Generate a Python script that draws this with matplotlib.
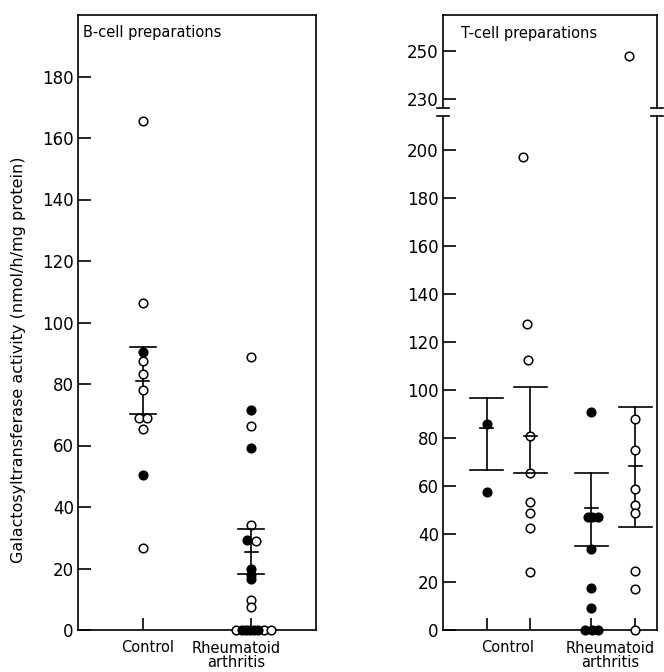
import numpy as np
import matplotlib
matplotlib.use("Agg")
from matplotlib import pyplot as plt

# ---- data ----
# B-cell panel
b_ctrl_open = [165.4, 106.2, 87.4, 83.2, 78.0, 68.9, 68.9, 65.3, 26.6]
b_ctrl_open_dx = [0, 0, 0, 0, 0, -0.04, 0.04, 0, 0]
b_ctrl_fill = [90.3, 50.4]
b_ctrl_fill_dx = [0, 0]
b_ra_open = [88.7, 66.3, 34.1, 28.9, 9.7, 7.5, 0, 0, 0]
b_ra_open_dx = [0, 0, 0, 0.05, 0, 0, -0.14, 0.12, 0.185]
b_ra_fill = [71.5, 59.1, 29.2, 19.8, 17.9, 16.6, 0, 0, 0, 0, 0]
b_ra_fill_dx = [0, 0, -0.04, 0, 0, 0, -0.085, -0.045, -0.01, 0.03, 0.065]
# error bars: low, mean, high
b_err_lo = [70.2, 18.3]
b_err_mean = [81.0, 25.3]
b_err_hi = [92.0, 32.8]

# T-cell panel (4 columns: control filled, control open, RA filled, RA open)
t_ctrl_fill = [85.8, 57.5]
t_ctrl_fill_dx = [0, 0]
t_ctrl_open = [197, 127.5, 112.5, 80.8, 65.4, 53.3, 48.6, 42.6, 24.3]
t_ctrl_open_dx = [-0.16, -0.07, -0.05, 0, 0, 0, 0, 0, 0]
t_ra_fill = [90.8, 47.1, 47.1, 47.1, 33.8, 17.5, 9.2, 0, 0, 0]
t_ra_fill_dx = [0, -0.09, 0.02, 0.14, 0, 0, 0, -0.14, 0.02, 0.14]
t_ra_open = [248, 87.9, 75.0, 58.8, 52.1, 48.8, 24.6, 17.1, 0]
t_ra_open_dx = [-0.14, 0, 0, 0, 0, 0, 0, 0, 0]
t_err_lo = [66.7, 65.4, 35.0, 43.0]
t_err_mean = [84.2, 81.0, 50.8, 68.3]
t_err_hi = [96.7, 101.2, 65.4, 93.0]

b_x = [1, 2]
t_x = [1, 2, 3.4, 4.4]

plt.rcParams['font.family'] = 'DejaVu Sans'
fig = plt.figure(figsize=(6.64, 6.72), dpi=100)

ms = 6.2
lw = 1.2


def dots(ax, x, vals, dx, filled):
    xs = x + np.array(dx)
    ax.plot(xs, vals, 'o', ms=ms, mec='black', mew=1.1,
            mfc='black' if filled else 'white', clip_on=False, zorder=3)


def errbar(ax, x, lo, mean, hi, cap=0.12, mid=0.06):
    ax.plot([x, x], [lo, hi], color='black', lw=lw, zorder=2)
    ax.plot([x - cap, x + cap], [hi, hi], color='black', lw=lw, zorder=4)
    ax.plot([x - cap, x + cap], [lo, lo], color='black', lw=lw, zorder=4)
    ax.plot([x - mid, x + mid], [mean, mean], color='black', lw=lw, zorder=4)


def style(ax):
    for s in ax.spines.values():
        s.set_linewidth(lw)
    ax.tick_params(direction='in', length=9, width=lw, labelsize=12, pad=3)


# ---- left panel: B cells ----
axb = fig.add_axes([78 / 664, 1 - 630 / 672, 238 / 664, 615 / 672])
axb.set_xlim(0.4, 2.6)
axb.set_ylim(0, 200)
axb.set_yticks(range(0, 181, 20))
axb.set_xticks(b_x)
axb.set_xticklabels([])
style(axb)

dots(axb, b_x[0], b_ctrl_open, b_ctrl_open_dx, False)
dots(axb, b_x[0], b_ctrl_fill, b_ctrl_fill_dx, True)
dots(axb, b_x[1], b_ra_open, b_ra_open_dx, False)
dots(axb, b_x[1], b_ra_fill, b_ra_fill_dx, True)
for i in range(2):
    errbar(axb, b_x[i], b_err_lo[i], b_err_mean[i], b_err_hi[i], cap=0.12, mid=0.06)

axb.text(0.02, 0.972, 'B-cell preparations', transform=axb.transAxes,
         fontsize=10.5, va='center', ha='left')
tr = axb.get_xaxis_transform()
axb.text(1.04, -0.029, 'Control', transform=tr, ha='center', va='center', fontsize=10.5)
axb.text(1.86, -0.041, 'Rheumatoid\narthritis', transform=tr, ha='center',
         va='center', fontsize=10.5, linespacing=0.95)

# ---- right panel: T cells, broken y axis ----
axt_hi = fig.add_axes([443 / 664, 1 - 108 / 672, 214 / 664, 93 / 672])
axt = fig.add_axes([443 / 664, 1 - 630 / 672, 214 / 664, 514 / 672])

for a in (axt_hi, axt):
    a.set_xlim(0, 4.9)
    style(a)
    a.set_xticks(t_x)
    a.set_xticklabels([])

axt_hi.set_ylim(226.25, 265)
axt_hi.set_yticks([230, 250])
axt_hi.spines['bottom'].set_visible(False)
axt_hi.tick_params(axis='x', bottom=False)
axt.set_ylim(0, 214.2)
axt.set_yticks(range(0, 201, 20))
axt.spines['top'].set_visible(False)

cols = [(t_ctrl_fill, t_ctrl_fill_dx, True), (t_ctrl_open, t_ctrl_open_dx, False),
        (t_ra_fill, t_ra_fill_dx, True), (t_ra_open, t_ra_open_dx, False)]
for x, (vals, dx, filled) in zip(t_x, cols):
    vals = np.array(vals)
    dx = np.array(dx)
    hi = vals > 220
    if hi.any():
        dots(axt_hi, x, vals[hi], dx[hi], filled)
    dots(axt, x, vals[~hi], dx[~hi], filled)
for i in range(4):
    errbar(axt, t_x[i], t_err_lo[i], t_err_mean[i], t_err_hi[i], cap=0.38, mid=0.15)

# break marks
for xa in (0, 1):
    for a, ya in ((axt_hi, 0), (axt, 1)):
        a.plot([xa - 0.03, xa + 0.03], [ya, ya], transform=a.transAxes,
               color='black', lw=lw, clip_on=False)

axt_hi.text(0.084, 0.8, 'T-cell preparations', transform=axt_hi.transAxes,
            fontsize=10.5, va='center', ha='left')
tr = axt.get_xaxis_transform()
axt.text(1.48, -0.035, 'Control', transform=tr, ha='center', va='center', fontsize=10.5)
axt.text(3.83, -0.05, 'Rheumatoid\narthritis', transform=tr, ha='center',
         va='center', fontsize=10.5, linespacing=0.95)

fig.text(19 / 664, 1 - 360 / 672, 'Galactosyltransferase activity (nmol/h/mg protein)',
         rotation=90, ha='center', va='center', fontsize=11.5)

fig.savefig('out.png', dpi=100)
